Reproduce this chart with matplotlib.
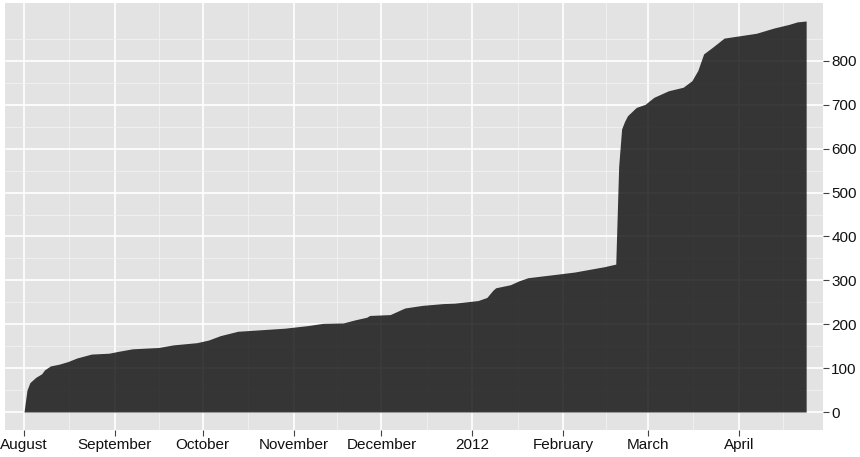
import pandas as pd
import matplotlib
matplotlib.use('Agg')
import matplotlib.pyplot as plt

# cumulative count
dates = ['2011-08-01', '2011-08-02', '2011-08-03', '2011-08-05', '2011-08-07',
         '2011-08-08', '2011-08-10', '2011-08-13', '2011-08-16', '2011-08-19',
         '2011-08-24', '2011-08-30', '2011-09-02', '2011-09-07', '2011-09-16',
         '2011-09-21', '2011-09-29', '2011-10-03', '2011-10-07', '2011-10-13',
         '2011-10-20', '2011-10-29', '2011-11-06', '2011-11-11', '2011-11-18',
         '2011-11-22', '2011-11-26', '2011-11-27', '2011-12-04', '2011-12-06',
         '2011-12-09', '2011-12-15', '2011-12-22', '2011-12-26', '2012-01-03',
         '2012-01-06', '2012-01-08', '2012-01-09', '2012-01-14', '2012-01-17',
         '2012-01-20', '2012-01-30', '2012-02-05', '2012-02-15', '2012-02-19',
         '2012-02-20', '2012-02-21', '2012-02-22', '2012-02-23', '2012-02-26',
         '2012-02-29', '2012-03-03', '2012-03-08', '2012-03-13', '2012-03-16',
         '2012-03-18', '2012-03-20', '2012-03-23', '2012-03-27', '2012-03-31',
         '2012-04-07', '2012-04-13', '2012-04-18', '2012-04-21', '2012-04-24']
counts = [0, 50, 67, 79, 87,
          96, 105, 109, 115, 123,
          132, 134, 138, 144, 147,
          153, 158, 164, 174, 184,
          187, 191, 197, 202, 203,
          210, 216, 220, 222, 228,
          237, 243, 247, 248, 254,
          261, 277, 283, 290, 299,
          306, 314, 319, 331, 337,
          560, 645, 662, 675, 694,
          701, 717, 732, 740, 755,
          778, 816, 831, 852, 856,
          863, 875, 883, 889, 891]

y_ticks = [0, 100, 200, 300, 400, 500, 600, 700, 800]
x_ticks = ['2011-08-01', '2011-09-01', '2011-10-01', '2011-11-01', '2011-12-01',
           '2012-01-01', '2012-02-01', '2012-03-01', '2012-04-01']
x_labels = ['August', 'September', 'October', 'November', 'December',
            '2012', 'February', 'March', 'April']

plt.rcParams['font.family'] = ['Liberation Sans', 'DejaVu Sans']

d = pd.to_datetime(dates)
xt = pd.to_datetime(x_ticks)

fig = plt.figure(figsize=(8.6, 4.57), dpi=100)
ax = fig.add_axes([5 / 860, 27 / 457, 818 / 860, 427 / 457])
ax.set_facecolor('#E3E3E3')

# minor breaks half way between the month breaks
edges = pd.to_datetime(['2011-07-01'] + x_ticks + ['2012-05-01'])
minor_x = edges[:-1] + (edges[1:] - edges[:-1]) / 2
for m in minor_x:
    ax.axvline(m, color='#F2F2F2', lw=0.6, zorder=0)
for t in xt:
    ax.axvline(t, color='white', lw=1.2, zorder=0)
for v in range(50, 900, 100):
    ax.axhline(v, color='#F2F2F2', lw=0.6, zorder=0)
for v in y_ticks:
    ax.axhline(v, color='white', lw=1.2, zorder=0)

ax.fill_between(d, counts, 0, color='black', alpha=0.77, lw=0, zorder=2)

ax.set_xlim(pd.Timestamp('2011-07-25 12:00'), pd.Timestamp('2012-04-29 18:00'))
ax.set_ylim(-41, 932)

ax.set_xticks(xt)
ax.set_xticklabels(x_labels)
ax.set_yticks(y_ticks)
ax.yaxis.tick_right()
ax.tick_params(axis='both', length=4, width=0.8, color='#444444',
               labelsize=11, labelcolor='#111111', pad=2)
for s in ax.spines.values():
    s.set_visible(False)

fig.savefig('out.png', dpi=100)
